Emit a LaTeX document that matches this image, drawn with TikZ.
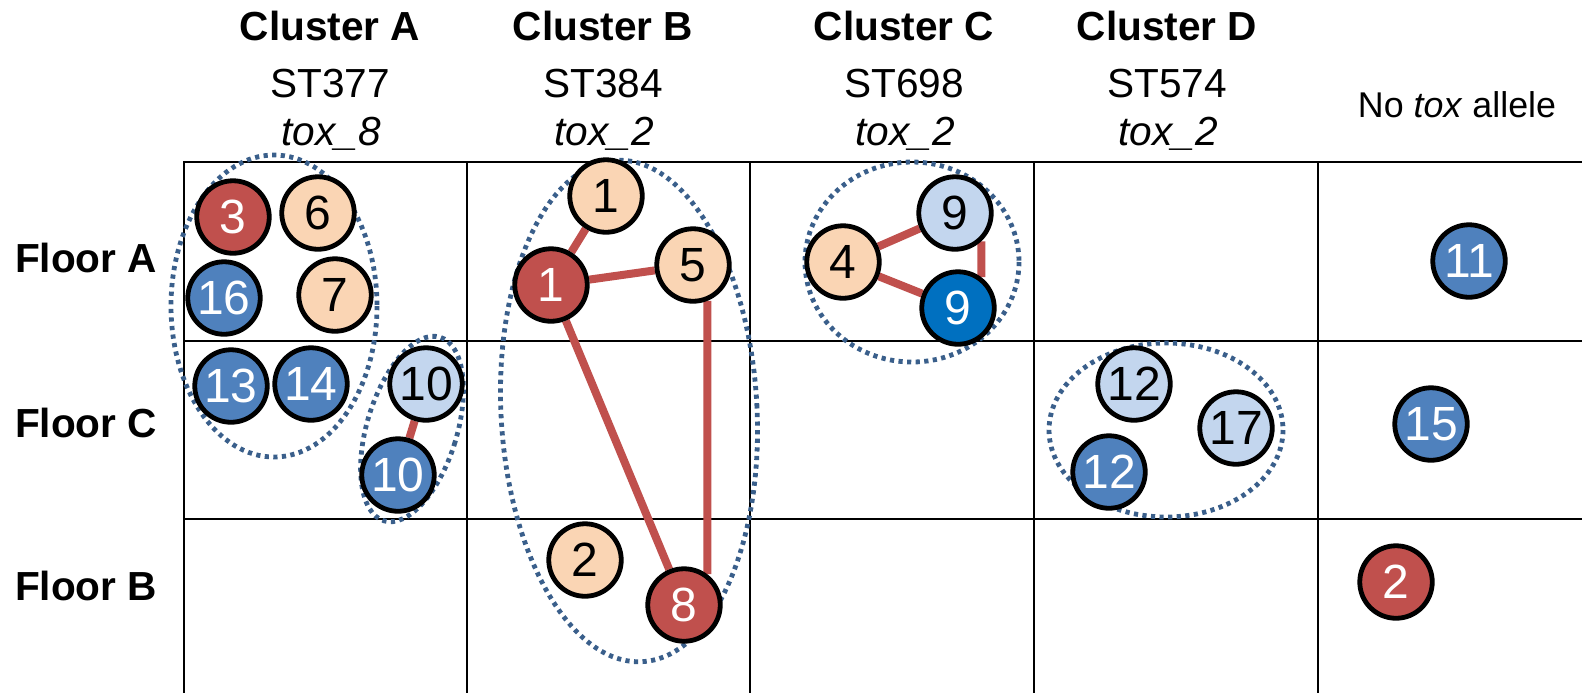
\documentclass[tikz,border=0pt]{standalone}
\usepackage{fontspec}
\setmainfont{Liberation Sans}
\usetikzlibrary{backgrounds}
\definecolor{cred}{HTML}{C0504D}
\definecolor{cpeach}{HTML}{FAD5B4}
\definecolor{cblue}{HTML}{4F81BD}
\definecolor{clight}{HTML}{C3D6EE}
\definecolor{cdark}{HTML}{0070C0}
\definecolor{cgrp}{HTML}{3A5F8B}
\begin{document}
\begin{tikzpicture}[x=0.5pt,y=-0.5pt,
  cell/.style={line width=1pt},
  grp/.style={draw=cgrp,line width=2.4pt,dash pattern=on 2.1pt off 2.2pt},
  link/.style={draw=cred,line width=4pt},
  clname/.style={anchor=base,font=\fontsize{20.3}{24}\selectfont\bfseries},
  sttype/.style={anchor=base,font=\fontsize{20.3}{24}\selectfont},
  toxtype/.style={anchor=base,font=\fontsize{20.3}{24}\selectfont\itshape},
  floor/.style={anchor=base west,font=\fontsize{20.3}{24}\selectfont\bfseries},
  iso/.style={circle,draw=black,line width=2.4pt,minimum size=36.25pt,inner sep=0pt,
    font=\fontsize{24}{24}\selectfont},
  isored/.style={iso,fill=cred,text=white},
  isopeach/.style={iso,fill=cpeach,text=black},
  isoblue/.style={iso,fill=cblue,text=white},
  isolight/.style={iso,fill=clight,text=black},
  isodark/.style={iso,fill=cdark,text=white}]
\useasboundingbox (0,0) rectangle (1582,693);

\begin{scope}[on background layer]
  \draw[cell] (183,162) -- (1582,162);
  \draw[cell] (183,341) -- (1582,341);
  \draw[cell] (183,519) -- (1582,519);
  \draw[cell] (184,162) -- (184,693);
  \draw[cell] (467,162) -- (467,693);
  \draw[cell] (750,162) -- (750,693);
  \draw[cell] (1034,162) -- (1034,693);
  \draw[cell] (1318,162) -- (1318,693);
\end{scope}

\node[clname] (hA) at (330,40) {Cluster A};
\node[clname] (hB) at (603,40) {Cluster B};
\node[clname] (hC) at (904,40) {Cluster C};
\node[clname] (hD) at (1167,40) {Cluster D};
\node[sttype] (sA) at (330,97) {ST377};
\node[sttype] (sB) at (603,97) {ST384};
\node[sttype] (sC) at (904,97) {ST698};
\node[sttype] (sD) at (1167,97) {ST574};
\node[toxtype] (tA) at (331,145) {tox\_8};
\node[toxtype] (tB) at (604,145) {tox\_2};
\node[toxtype] (tC) at (905,145) {tox\_2};
\node[toxtype] (tD) at (1168,145) {tox\_2};
\node[anchor=base,font=\fontsize{17.9}{22}\selectfont] (tN) at (1457,117) {No \textit{tox} allele};

\node[floor] (fA) at (8,272) {Floor A};
\node[floor] (fC) at (8,437) {Floor C};
\node[floor] (fB) at (8,600) {Floor B};

\draw[grp] (274,306) ellipse [x radius=103,y radius=151];
\draw[grp,rotate around={-17:(412,429)}] (412,429) ellipse [x radius=45,y radius=96];
\draw[grp,rotate around={3:(629,411)}] (629,411) ellipse [x radius=128,y radius=251];
\draw[grp] (912,262) ellipse [x radius=107,y radius=100];
\draw[grp] (1166,430) ellipse [x radius=117,y radius=87];

\node[isored] (a3) at (233,217) {3};
\node[isopeach] (a6) at (318,213) {6};
\node[isoblue] (a16) at (224,298) {16};
\node[isopeach] (a7) at (335,295) {7};
\node[isoblue] (a13) at (231,386) {13};
\node[isoblue] (a14) at (311,384) {14};
\node[isolight] (a10l) at (426,384) {10};
\node[isoblue] (a10d) at (398,475) {10};

\node[isopeach] (b1l) at (606,196) {1};
\node[isored] (b1d) at (551,285) {1};
\node[isopeach] (b5) at (693,265) {5};
\node[isopeach] (b2) at (585,560) {2};
\node[isored] (b8) at (684,605) {8};

\node[isolight] (c9l) at (955,213) {9};
\node[isopeach] (c4) at (843,262) {4};
\node[isodark] (c9d) at (958,308) {9};

\node[isolight] (d12l) at (1134,384) {12};
\node[isolight] (d17) at (1236,428) {17};
\node[isoblue] (d12d) at (1109,472) {12};

\node[isoblue] (n11) at (1469,261) {11};
\node[isoblue] (n15) at (1431,424) {15};
\node[isored] (n2) at (1396,582) {2};

\begin{scope}[on background layer]
  \draw[link] (a10l) -- (a10d);
  \draw[link] (b1l) -- (b1d);
  \draw[link] (b1d) -- (b5);
  \draw[link] (b1d) -- (b8);
  \draw[link] (b5.-68) -- (b8.53);
  \draw[link] (c4) -- (c9l);
  \draw[link] (c4) -- (c9d);
  \draw[link] (c9l.-47) -- (c9d.53);
\end{scope}
\end{tikzpicture}
\end{document}
